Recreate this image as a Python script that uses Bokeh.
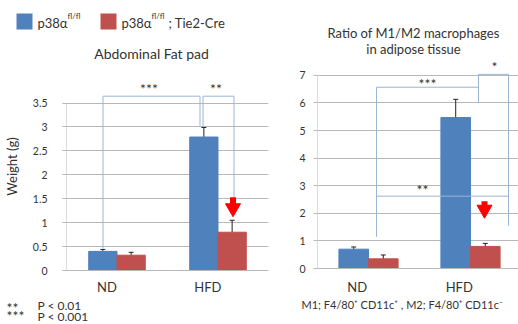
from bokeh.plotting import figure
from bokeh.models import (Range1d, FixedTicker, Label, Whisker, ColumnDataSource,
                          TeeHead, NumeralTickFormatter, CustomJSTickFormatter)
from bokeh.layouts import row, column
from bokeh.embed import file_html
from bokeh.resources import INLINE

# ---------------- data ----------------
groups = ["ND", "HFD"]
series_names = ["p38\u03b1", "p38\u03b1"]
fat_wt = [0.40, 2.79]
fat_wt_err = [0.04, 0.20]
fat_ko = [0.32, 0.80]
fat_ko_err = [0.06, 0.25]
ratio_wt = [0.70, 5.47]
ratio_wt_err = [0.08, 0.66]
ratio_ko = [0.35, 0.80]
ratio_ko_err = [0.14, 0.11]
fat_ticks = [0, 0.5, 1, 1.5, 2, 2.5, 3, 3.5]
ratio_ticks = [0, 1, 2, 3, 4, 5, 6, 7]

FONT = "Lato"
BLUE = "#4F81BD"
RED = "#C0504D"
BRK = "#9AB5D6"
GRID = "#b8b8b8"
TXT = "#333333"

W, H = 518, 324
MID_BOTTOM = 297                 # bottom of the two chart panels (window px)
WL, WR = 270, 248                # widths of the left / right columns
TOPL_H, TOPR_H = 62, 58          # heights of the title strips above each chart
BOT_H = H - MID_BOTTOM


def strip(width, height):
    s = figure(width=width, height=height, x_range=Range1d(0, width), y_range=Range1d(height, 0),
               x_axis_type=None, y_axis_type=None, output_backend="svg",
               toolbar_location=None, min_border=0)
    s.outline_line_color = None
    s.grid.visible = False
    return s


def base_fig(width, height, bl, br, bb, xr, yr, ticks, fmt, shift, std_y, std_x):
    p = figure(width=width, height=height, x_range=Range1d(*xr), y_range=Range1d(*yr),
               output_backend="svg", toolbar_location=None,
               min_border_left=bl, min_border_right=br, min_border_bottom=bb, min_border_top=0)
    p.outline_line_color = None
    p.xgrid.visible = False
    p.yaxis.ticker = FixedTicker(ticks=ticks)
    p.yaxis.formatter = NumeralTickFormatter(format=fmt)
    p.ygrid.grid_line_color = GRID
    p.yaxis.axis_line_color = None
    p.yaxis.major_tick_line_color = GRID
    p.yaxis.major_tick_out = 4
    p.yaxis.major_tick_in = 0
    p.yaxis.minor_tick_line_color = None
    p.yaxis.major_label_standoff = std_y
    p.yaxis.major_label_text_font = FONT
    p.yaxis.major_label_text_font_size = "10.5px"
    p.yaxis.major_label_text_color = TXT
    p.xaxis.ticker = FixedTicker(ticks=[i + shift for i in range(len(groups))])
    p.xaxis.formatter = CustomJSTickFormatter(args=dict(names=groups), code="return names[index];")
    p.xaxis.major_tick_line_color = None
    p.xaxis.major_tick_out = 0
    p.xaxis.major_tick_in = 0
    p.xaxis.minor_tick_line_color = None
    p.xaxis.axis_line_color = GRID
    p.xaxis.major_label_text_font = FONT
    p.xaxis.major_label_text_font_size = "13px"
    p.xaxis.major_label_text_color = TXT
    p.xaxis.major_label_standoff = std_x
    p.segment(x0=[xr[0]], y0=[0], x1=[xr[0]], y1=[ticks[-1]], line_color=GRID, line_width=1)
    return p


def bars(p, wt, wt_err, ko, ko_err, bw):
    xs = list(range(len(groups)))
    off = bw / 2
    for vals, errs, col, sgn in ((wt, wt_err, BLUE, -1), (ko, ko_err, RED, 1)):
        x = [i + sgn * off for i in xs]
        src = ColumnDataSource(dict(x=x, top=vals,
                                    upper=[v + e for v, e in zip(vals, errs)],
                                    lower=[v - e for v, e in zip(vals, errs)]))
        p.vbar(x="x", top="top", width=bw, source=src, fill_color=col, line_color=col)
        p.add_layout(Whisker(source=src, base="x", upper="upper", lower="lower",
                             line_color="#222222", line_width=1,
                             upper_head=TeeHead(size=5, line_color="#222222", line_width=1),
                             lower_head=TeeHead(size=5, line_color="#222222", line_width=1)))


def txt(p, x, y, s, size="11px", align="center", color=TXT, baseline="middle"):
    p.add_layout(Label(x=x, y=y, text=s, text_font=FONT, text_font_size=size,
                       text_color=color, text_align=align, text_baseline=baseline))


def arrow(p, X, Y, wx, wy_top, wy_neck, wy_tip):
    p.segment(x0=[X(wx)], y0=[Y(wy_top)], x1=[X(wx)], y1=[Y(wy_neck + 1)],
              line_color="red", line_width=6)
    p.scatter(x=[X(wx)], y=[Y((wy_neck + wy_tip) / 2 - 1)], marker="inverted_triangle",
              size=15, fill_color="red", line_color="red")


def brackets(p, X, Y, paths):
    p.multi_line(xs=[[X(a) for a, b in path] for path in paths],
                 ys=[[Y(b) for a, b in path] for path in paths],
                 line_color=BRK, line_width=1)


# ---------------- left title strip: legend and title ----------------
topL = strip(WL, TOPL_H)
topL.quad(left=[16, 100], right=[32, 116], top=[13, 13], bottom=[29, 29],
          fill_color=[BLUE, RED], line_color=None)
txt(topL, 37, 22, series_names[0], "13px", "left")
txt(topL, 67, 15, "fl/fl", "8px", "left")
txt(topL, 121, 22, series_names[1], "13px", "left")
txt(topL, 151, 15, "fl/fl", "8px", "left")
txt(topL, 168, 22, "; Tie2-Cre", "13px", "left")
txt(topL, 151, 53, "Abdominal Fat pad", "14px")

# ---------------- right title strip ----------------
topR = strip(WR, TOPR_H)
txt(topR, 413 - WL, 32, "Ratio of M1/M2 macrophages", "13px")
txt(topR, 413 - WL, 48, "in adipose tissue", "13px")

# ---------------- left: abdominal fat pad ----------------
L_FB, L_PX, L_CX = 272, 48.3, 116      # frame bottom, px per unit, ND centre (window px)
X1 = lambda wx: (wx - L_CX) / 101.0
Y1 = lambda wy: (L_FB - wy) / L_PX
p1 = base_fig(WL, MID_BOTTOM - TOPL_H, 66, 2, MID_BOTTOM - L_FB, (-0.5, 1.5),
              (0, (L_FB - TOPL_H) / L_PX), fat_ticks, "0.[0]", -0.1, 15, 8)
p1.yaxis.axis_label = "Weight (g)"
p1.yaxis.axis_label_text_font = FONT
p1.yaxis.axis_label_text_font_size = "13px"
p1.yaxis.axis_label_text_font_style = "normal"
p1.yaxis.axis_label_text_color = TXT
p1.yaxis.axis_label_standoff = 10
bars(p1, fat_wt, fat_wt_err, fat_ko, fat_ko_err, 0.28)
brackets(p1, X1, Y1, [[(102, 250), (102, 96), (199, 96), (199, 126)],
                      [(202, 127), (202, 96), (233, 96), (233, 198)]])
txt(p1, X1(148), Y1(88.5), "***", "14px")
txt(p1, X1(215), Y1(88.5), "**", "14px")
arrow(p1, X1, Y1, 232, 198, 206, 214)

# ---------------- right: M1/M2 ratio ----------------
R_FB, R_PX, R_CX = 270, 27.86, 368
X2 = lambda wx: (wx - R_CX) / 102.0
Y2 = lambda wy: (R_FB - wy) / R_PX
p2 = base_fig(WR, MID_BOTTOM - TOPR_H, 47, 0, MID_BOTTOM - R_FB, (-0.5, -0.5 + 201 / 102.0),
              (0, (R_FB - TOPR_H) / R_PX), ratio_ticks, "0", -0.11, 8, 10)
bars(p2, ratio_wt, ratio_wt_err, ratio_ko, ratio_ko_err, 0.29)
brackets(p2, X2, Y2, [[(478, 103), (478, 74), (508, 74), (508, 227)],
                      [(376, 238), (376, 87), (478, 87)],
                      [(376, 197), (508, 197)]])
txt(p2, X2(494), Y2(66.5), "*", "14px")
txt(p2, X2(427), Y2(83.5), "***", "14px")
txt(p2, X2(422), Y2(190.5), "**", "14px")
arrow(p2, X2, Y2, 484, 202, 207, 216)

# ---------------- bottom strip: footnotes ----------------
bot = strip(W, BOT_H)
txt(bot, 6, 307 - MID_BOTTOM, "**", "14px", "left")
txt(bot, 37, 305 - MID_BOTTOM, "P < 0.01", "12px", "left")
txt(bot, 6, 315 - MID_BOTTOM, "***", "14px", "left")
txt(bot, 37, 316 - MID_BOTTOM, "P < 0.001", "12px", "left")
txt(bot, 301, 304 - MID_BOTTOM, "M1; F4/80\u207a CD11c\u207a , M2; F4/80\u207a CD11c\u207b", "11px", "left")

layout = column(row(column(topL, row(p1)), column(topR, row(p2))), bot)
open("out.html", "w").write(file_html(layout, INLINE))
